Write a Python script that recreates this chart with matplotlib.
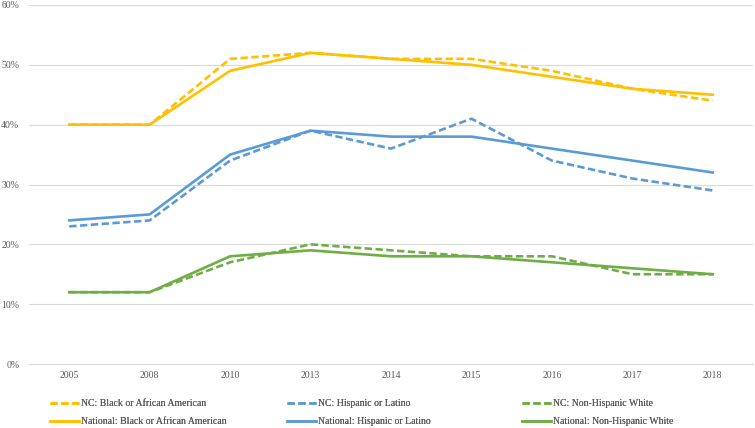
import matplotlib
matplotlib.use('Agg')
import matplotlib.pyplot as plt
from matplotlib.ticker import FuncFormatter

YEARS = ['2005', '2008', '2010', '2013', '2014', '2015', '2016', '2017', '2018']

NC_BLACK = [40, 40, 51, 52, 51, 51, 49, 46, 44]
NAT_BLACK = [40, 40, 49, 52, 51, 50, 48, 46, 45]
NC_HISP = [23, 24, 34, 39, 36, 41, 34, 31, 29]
NAT_HISP = [24, 25, 35, 39, 38, 38, 36, 34, 32]
NC_WHITE = [12, 12, 17, 20, 19, 18, 18, 15, 15]
NAT_WHITE = [12, 12, 18, 19, 18, 18, 17, 16, 15]

YELLOW = '#FFC000'
BLUE = '#5B9BD5'
GREEN = '#70AD47'
GRID = '#D9D9D9'
TEXT = '#595959'

plt.rcParams['font.family'] = ['Liberation Serif', 'DejaVu Serif']

fig = plt.figure(figsize=(7.55, 4.28), dpi=100)
ax = fig.add_axes([29 / 755, 1 - 364 / 428, 724 / 755, 359 / 428])

x = list(range(len(YEARS)))
series = [
    (NC_BLACK, YELLOW, '--', 'NC: Black or African American'),
    (NAT_BLACK, YELLOW, '-', 'National: Black or African American'),
    (NC_HISP, BLUE, '--', 'NC: Hispanic or Latino'),
    (NAT_HISP, BLUE, '-', 'National: Hispanic or Latino'),
    (NC_WHITE, GREEN, '--', 'NC: Non-Hispanic White'),
    (NAT_WHITE, GREEN, '-', 'National: Non-Hispanic White'),
]
handles = []
for vals, col, ls, lab in series:
    kw = dict(dashes=(2.8, 1.3)) if ls == '--' else {}
    h, = ax.plot(x, vals, color=col, lw=1.9, ls=ls, label=lab,
                 solid_joinstyle='round', dash_capstyle='butt', **kw)
    handles.append(h)

ax.set_xlim(-0.5, len(YEARS) - 0.5)
ax.set_ylim(0, 60)
ax.set_yticks(range(0, 61, 10))
ax.yaxis.set_major_formatter(FuncFormatter(lambda v, p: '%d%%' % v))
ax.set_xticks(x)
ax.set_xticklabels(YEARS)
ax.tick_params(length=0, labelsize=7, colors=TEXT)
ax.tick_params(axis='y', pad=7)
ax.tick_params(axis='x', pad=5)
ax.grid(axis='y', color=GRID, lw=0.8)
ax.set_axisbelow(True)
for s in ['top', 'right', 'left']:
    ax.spines[s].set_visible(False)
ax.spines['bottom'].set_color(GRID)
ax.spines['bottom'].set_linewidth(0.8)

# three legend columns at fixed positions, like the original
col_x = [50, 287, 522]
for i in range(3):
    pair = handles[2 * i:2 * i + 2]
    leg = fig.legend(pair, [h.get_label() for h in pair],
                     loc='upper left', bbox_to_anchor=(col_x[i] / 755, 1 - 399 / 428),
                     frameon=False, fontsize=7, handlelength=3.0, handletextpad=0.2,
                     labelspacing=0.95, borderpad=0, borderaxespad=0, labelcolor=TEXT)
    fig.add_artist(leg)

fig.savefig('out.png', dpi=100)
